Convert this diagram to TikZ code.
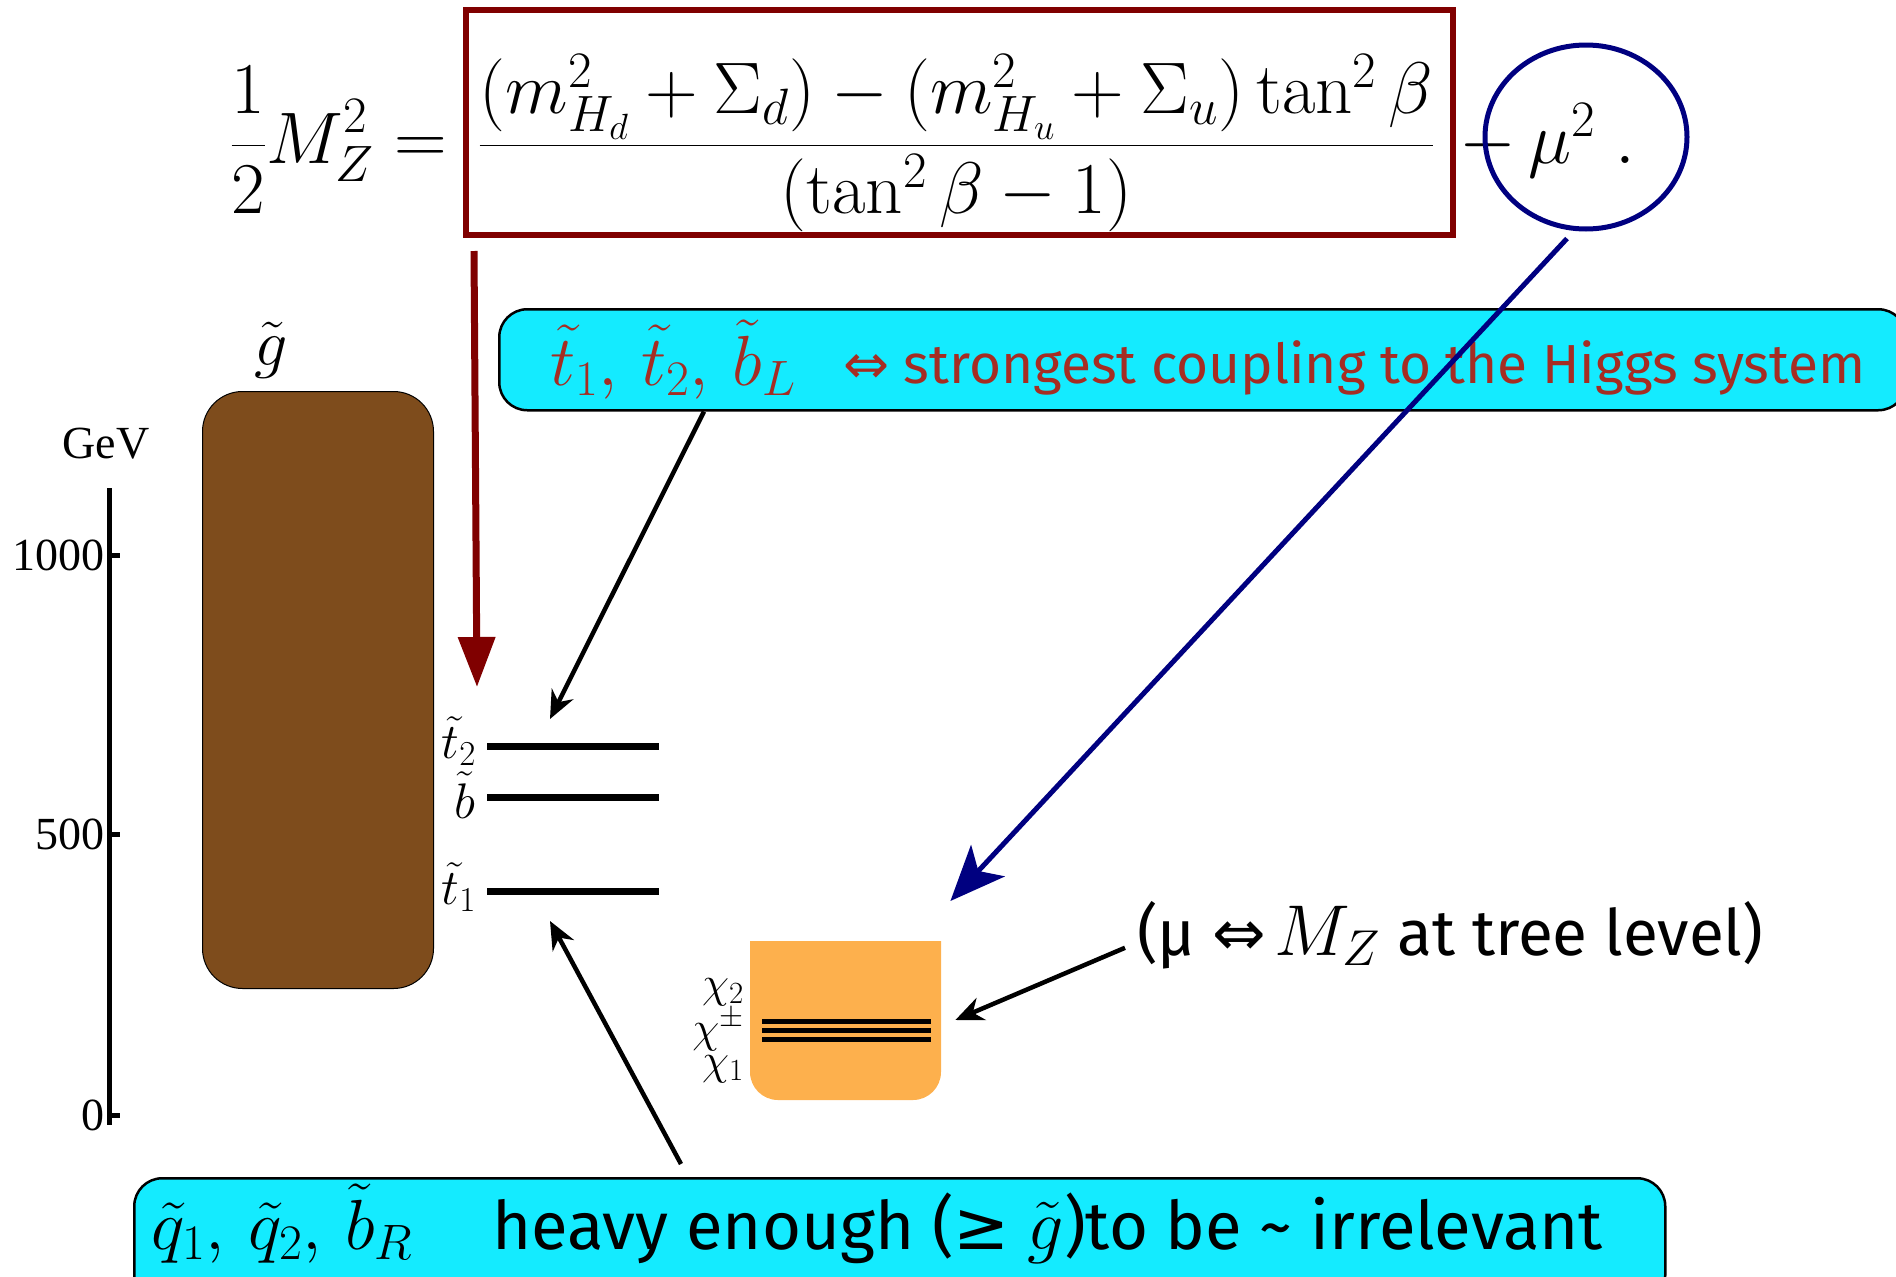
\RequirePackage{fix-cm}
\documentclass[tikz,border=0pt]{standalone}
\usepackage{fontspec}
\usepackage{graphicx}
\newfontfamily\comic{Fira Sans}
\newfontfamily\djv{DejaVu Sans}
\newfontfamily\tms{Liberation Serif}
\usetikzlibrary{arrows.meta,shapes.geometric}
\definecolor{boxred}{RGB}{128,0,0}
\definecolor{navyc}{RGB}{0,0,128}
\definecolor{cyanbox}{RGB}{20,235,255}
\definecolor{txtred}{RGB}{165,45,35}
\definecolor{brownbox}{RGB}{126,76,28}
\definecolor{orangebox}{RGB}{253,176,77}
\tikzset{
  blkarrow/.style={-{Stealth[length=28pt,width=24pt]}, line width=4.5pt},
  bluearrow/.style={navyc, -{Stealth[length=55pt,width=46pt,inset=14pt]}, line width=5pt},
  redarrow/.style={boxred, -{Triangle[length=50pt,width=36pt]}, line width=7pt},
  cyanlabel/.style={draw=black, fill=cyanbox, rounded corners=28pt, line width=2.5pt, inner sep=0pt, anchor=north west},
  levelline/.style={line width=7pt},
  chiline/.style={line width=5pt},
  axisline/.style={line width=5pt},
  txt/.style={inner sep=0pt, anchor=base west},
  eqpart/.style={inner sep=0pt, font=\fontsize{73}{84}\selectfont},
  numlab/.style={inner sep=0pt, anchor=east, font=\tms\fontsize{46}{50}\selectfont},
  lvllab/.style={inner sep=0pt, anchor=east, font=\fontsize{50}{54}\selectfont},
  chilab/.style={inner sep=0pt, anchor=east, font=\fontsize{44}{46}\selectfont},
}
\begin{document}
\begin{tikzpicture}[x=1pt,y=-1pt]
\useasboundingbox (0,0) rectangle (1896,1277);

% equation
\node[eqpart, anchor=base east] (eql) at (447,163) {$\displaystyle \frac{1}{2}M_Z^2=$};
\node[eqpart, anchor=base] (eqf) at (956.5,163)
  {$\displaystyle \frac{(m_{H_d}^2+\Sigma_d)-(m_{H_u}^2+\Sigma_u)\tan^2\beta}{(\tan^2\beta-1)}$};
\node[eqpart, anchor=base west] (eqr) at (1459,163) {$-\,\mu^2\;.$};
\node[draw=boxred, line width=6pt, minimum width=987pt, minimum height=225pt, inner sep=0pt] (fracbox) at (959.5,122.5) {};
\node[draw=navyc, line width=5pt, ellipse, minimum width=202pt, minimum height=184pt, inner sep=0pt] (mu) at (1586,137) {};

% top cyan box
\node[cyanlabel, minimum width=1407pt, minimum height=101pt] (topbox) at (498,308) {};
\node[txt, text=txtred] (tbm) at (550,385) {\fontsize{71}{76}\selectfont$\tilde t_1,\,\tilde t_2,\,\tilde b_L$};
\node[txt, text=txtred] (tbt) at (843,383) {\comic\fontsize{55}{60}\selectfont{\djv ⇔} strongest coupling to the Higgs system};

% gluino
\node[draw=black, line width=1pt, fill=brownbox, rounded corners=40pt, minimum width=231pt, minimum height=597pt, inner sep=0pt, anchor=north west] (gluino) at (202,391) {};
\node[inner sep=0pt] (glab) at (271,350) {\fontsize{66}{70}\selectfont$\tilde g$};

% axis
\node[inner sep=0pt, font=\tms\fontsize{46}{50}\selectfont] (gev) at (106,444) {GeV};
\coordinate (axtop) at (109,488);
\coordinate (axbot) at (109,1125);
\draw[axisline] (axtop) -- (axbot);
\coordinate (t1000) at (109,555);
\coordinate (t500) at (109,834);
\coordinate (t0) at (109,1115);
\draw[axisline] (t1000) -- ++(11,0);
\draw[axisline] (t500) -- ++(11,0);
\draw[axisline] (t0) -- ++(11,0);
\node[numlab] (l1000) at (105,555) {1000};
\node[numlab] (l500) at (105,834) {500};
\node[numlab] (l0) at (105,1115) {0};

% squark levels
\coordinate (t2a) at (487,746); \coordinate (t2b) at (659,746);
\coordinate (sba) at (487,797); \coordinate (sbb) at (659,797);
\coordinate (t1a) at (487,891); \coordinate (t1b) at (659,891);
\draw[levelline] (t2a) -- (t2b);
\draw[levelline] (sba) -- (sbb);
\draw[levelline] (t1a) -- (t1b);
\node[lvllab] (t2lab) at (476,741) {$\tilde t_2$};
\node[lvllab] (sblab) at (476,795) {$\tilde b$};
\node[lvllab] (t1lab) at (476,887) {$\tilde t_1$};

% neutralino / chargino box
\fill[orangebox] (750,941) -- (941,941) -- (941,1072) arc[start angle=0,end angle=90,radius=28] -- (778,1100) arc[start angle=90,end angle=180,radius=28] -- cycle;
\node[inner sep=0pt, minimum width=191pt, minimum height=159pt, anchor=north west] (chi) at (750,941) {};
\draw[chiline] (762,1021) -- (931,1021);
\draw[chiline] (762,1030) -- (931,1030);
\draw[chiline] (762,1039) -- (931,1039);
\node[chilab] (c2lab) at (744,992) {$\chi_2$};
\node[chilab] (cpmlab) at (744,1030) {$\chi^{\pm}$};
\node[chilab] (c1lab) at (744,1069) {$\chi_1$};

\node[txt] (mutext) at (1137,955) {\comic\fontsize{64}{68}\selectfont(μ {\djv ⇔}\hspace{8pt}\fontsize{72}{76}\selectfont$M_Z$\fontsize{64}{68}\selectfont{} at tree level)};

% bottom cyan box
\node[cyanlabel, minimum width=1531pt, minimum height=125pt] (botbox) at (133,1177) {};
\node[txt] (bbm) at (151,1249) {\fontsize{71}{76}\selectfont$\tilde q_1,\,\tilde q_2,\,\tilde b_R$};
\node[txt] (bbt) at (492,1249) {\comic\fontsize{67}{72}\selectfont heavy enough ({\djv ≥} \fontsize{72}{76}\selectfont$\tilde g$\fontsize{67}{72}\selectfont)to be \textasciitilde{} irrelevant};

% arrows
\coordinate (redtip) at (477,687);
\draw[redarrow] ([shift={(11,13)}]fracbox.south west) -- (redtip);
\coordinate (a1tip) at (550,719);
\draw[blkarrow] ([xshift=206pt]topbox.south west) -- (a1tip);
\coordinate (a2tip) at (550,921);
\draw[blkarrow] ([shift={(548,-13)}]botbox.north west) -- (a2tip);
\draw[blkarrow] ([shift={(-12,13)}]mutext.west) -- ([shift={(14,79)}]chi.north east);
\draw[bluearrow] ([shift={(-19,7)}]mu.south) -- ([shift={(9,-40)}]chi.north east);
\end{tikzpicture}
\end{document}
